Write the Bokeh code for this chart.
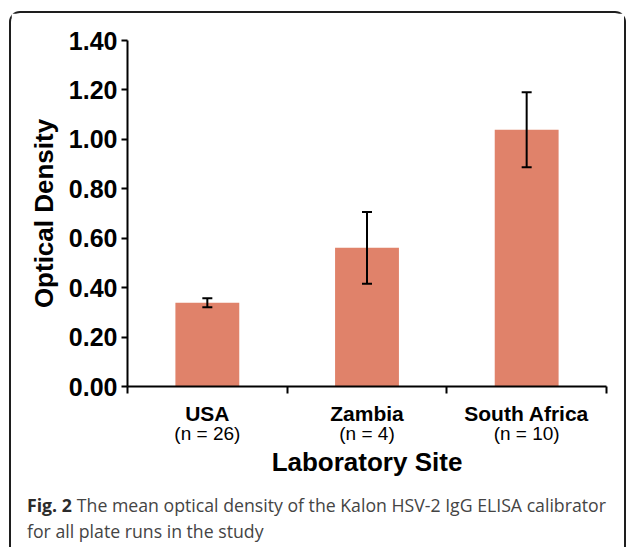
from bokeh.plotting import figure
from bokeh.models import (Range1d, LinearAxis, FixedTicker, Whisker, ColumnDataSource,
                          Div, TeeHead)
from bokeh.layouts import column
from bokeh.embed import file_html
from bokeh.resources import INLINE

# ---- data ----
sites = ["USA", "Zambia", "South Africa"]
n_labels = ["(n = 26)", "(n = 4)", "(n = 10)"]
mean_od = [0.339, 0.561, 1.039]
err_od = [0.018, 0.145, 0.152]
y_ticks = [0.0, 0.2, 0.4, 0.6, 0.8, 1.0, 1.2, 1.4]
y_tick_labels = ["0.00", "0.20", "0.40", "0.60", "0.80", "1.00", "1.20", "1.40"]
x_title = "Laboratory Site"
y_title = "Optical Density"
caption_bold = "Fig. 2"
caption_lines = ["The mean optical density of the Kalon HSV-2 IgG ELISA calibrator",
                 "for all plate runs in the study"]

xs = list(range(len(sites)))
upper = [m + e for m, e in zip(mean_od, err_od)]
lower = [m - e for m, e in zip(mean_od, err_od)]
bounds = [i - 0.5 for i in xs] + [xs[-1] + 0.5]
src = ColumnDataSource(dict(x=xs, top=mean_od, upper=upper, lower=lower))

FONT = "Liberation Sans"

p = figure(width=613, height=474, x_range=Range1d(-0.5, len(sites) - 0.5),
           y_range=Range1d(0, 1.4), output_backend="svg", toolbar_location=None,
           x_axis_location=None, y_axis_location=None,
           min_border_left=116, min_border_right=18, min_border_top=27,
           min_border_bottom=101)
p.grid.visible = False
p.outline_line_color = None
p.background_fill_color = "white"
p.border_fill_color = "white"

p.vbar(x="x", top="top", bottom=0, width=0.4, source=src,
       fill_color="#E0826A", line_color=None)

w = Whisker(base="x", upper="upper", lower="lower", source=src,
            line_color="black", line_width=2, level="annotation",
            upper_head=TeeHead(size=10, line_width=2, line_color="black"),
            lower_head=TeeHead(size=10, line_width=2, line_color="black"))
p.add_layout(w)

# y axis
yaxis = LinearAxis(ticker=FixedTicker(ticks=y_ticks, minor_ticks=[]),
                   major_label_overrides={t: l for t, l in zip(y_ticks, y_tick_labels)},
                   axis_label=y_title)
yaxis.axis_line_width = 2
yaxis.axis_line_color = "black"
yaxis.major_tick_line_width = 2
yaxis.major_tick_line_color = "black"
yaxis.major_tick_out = 6
yaxis.major_tick_in = 0
yaxis.major_label_standoff = 4
yaxis.major_label_text_font = FONT
yaxis.major_label_text_font_style = "bold"
yaxis.major_label_text_font_size = "25px"
yaxis.major_label_text_color = "black"
yaxis.axis_label_text_font = FONT
yaxis.axis_label_text_font_style = "bold"
yaxis.axis_label_text_font_size = "26px"
yaxis.axis_label_text_color = "black"
yaxis.axis_label_standoff = 7
p.add_layout(yaxis, "left")

# x axis 1: site names, boundary ticks
xaxis1 = LinearAxis(ticker=FixedTicker(ticks=xs, minor_ticks=bounds),
                    major_label_overrides={i: s for i, s in zip(xs, sites)})
xaxis1.axis_line_width = 2
xaxis1.axis_line_color = "black"
xaxis1.major_tick_out = 0
xaxis1.major_tick_in = 0
xaxis1.major_tick_line_color = None
xaxis1.minor_tick_out = 7
xaxis1.minor_tick_in = 0
xaxis1.minor_tick_line_width = 2
xaxis1.minor_tick_line_color = "black"
xaxis1.major_label_standoff = 8
xaxis1.major_label_text_font = FONT
xaxis1.major_label_text_font_style = "bold"
xaxis1.major_label_text_font_size = "21px"
xaxis1.major_label_text_color = "black"
p.add_layout(xaxis1, "below")

# x axis 2: n labels and title
xaxis2 = LinearAxis(ticker=FixedTicker(ticks=xs, minor_ticks=[]),
                    major_label_overrides={i: s for i, s in zip(xs, n_labels)},
                    axis_label=x_title)
xaxis2.axis_line_color = None
xaxis2.major_tick_line_color = None
xaxis2.minor_tick_line_color = None
xaxis2.major_tick_out = 0
xaxis2.major_tick_in = 0
xaxis2.minor_tick_out = 0
xaxis2.major_label_standoff = -5
xaxis2.major_label_text_font = FONT
xaxis2.major_label_text_font_size = "19px"
xaxis2.major_label_text_color = "black"
xaxis2.axis_label_text_font = FONT
xaxis2.axis_label_text_font_style = "bold"
xaxis2.axis_label_text_font_size = "26px"
xaxis2.axis_label_text_color = "black"
xaxis2.axis_label_standoff = 0
p.add_layout(xaxis2, "below")

cap_html = ("<div style=\"padding:0 6px 0 11px;font-family:'Open Sans';font-size:17.7px;"
            "line-height:26px;color:#444444;white-space:nowrap\">"
            f"<b style='color:#2b2b2b;margin-right:5px'>{caption_bold}</b>"
            f"<span>{caption_lines[0]}</span><br>"
            f"<span>{caption_lines[1]}</span></div>")
cap = Div(text=cap_html, width=613, height=60)

col = column(p, cap, width=613, height=534,
             styles={"border": "2px solid #1e1e1e", "border-bottom": "none",
                     "border-radius": "11px 11px 0 0", "box-sizing": "content-box",
                     "width": "613px", "height": "534px",
                     "margin": "11px 0 0 9px", "background": "white"})

open("out.html", "w").write(file_html(col, INLINE))
